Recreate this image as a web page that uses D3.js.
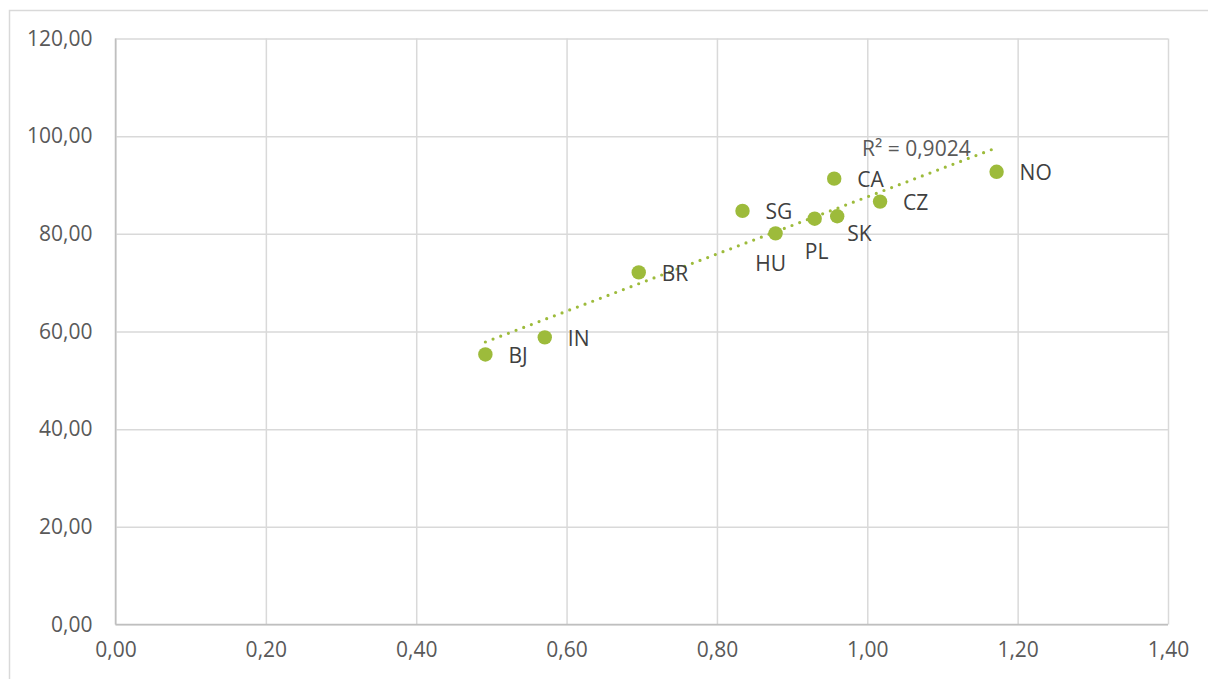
<!DOCTYPE html>
<html>
<head>
<meta charset="utf-8">
<script src="https://cdn.jsdelivr.net/npm/d3@7"></script>
<style>
  html, body { margin: 0; padding: 0; background: #fff; }
  svg { display: block; font-family: "Open Sans", "DejaVu Sans", sans-serif; }
</style>
</head>
<body>
<svg id="chart" width="1208" height="679"></svg>
<script>
// Country codes and their values
const countries = ["BJ", "IN", "BR", "SG", "HU", "PL", "SK", "CA", "CZ", "NO"];
const xValues   = [0.492, 0.571, 0.696, 0.834, 0.878, 0.930, 0.960, 0.956, 1.017, 1.172];
const yValues   = [55.3, 58.8, 72.1, 84.7, 80.1, 83.1, 83.6, 91.3, 86.6, 92.7];
const xTicks = [0, 0.2, 0.4, 0.6, 0.8, 1.0, 1.2, 1.4];
const yTicks = [0, 20, 40, 60, 80, 100, 120];
const rSquaredText = "R² = 0,9024";

const svg = d3.select("#chart");
const plot = { left: 115.5, top: 38.5, right: 1168, bottom: 624.5 };

const x = d3.scaleLinear().domain([0, 1.4]).range([plot.left, plot.right]);
const y = d3.scaleLinear().domain([0, 120]).range([plot.bottom, plot.top]);
const fmt = v => d3.format(".2f")(v).replace(".", ",");

// Outer chart frame
svg.append("rect")
  .attr("x", 9.5).attr("y", 10.5)
  .attr("width", 1220).attr("height", 700)
  .attr("fill", "none").attr("stroke", "#d9d9d9").attr("stroke-width", 1.5);

// Gridlines
svg.append("g")
  .attr("transform", `translate(0,${plot.bottom})`)
  .call(d3.axisBottom(x).tickValues(xTicks).tickSize(-(plot.bottom - plot.top)).tickFormat(""))
  .call(g => g.select(".domain").remove())
  .call(g => g.selectAll("line").attr("stroke", "#d9d9d9").attr("stroke-width", 1.5));

svg.append("g")
  .attr("transform", `translate(${plot.left},0)`)
  .call(d3.axisLeft(y).tickValues(yTicks).tickSize(-(plot.right - plot.left)).tickFormat(""))
  .call(g => g.select(".domain").remove())
  .call(g => g.selectAll("line").attr("stroke", "#d9d9d9").attr("stroke-width", 1.5));

// Axis lines
svg.append("line")
  .attr("x1", plot.left).attr("x2", plot.left).attr("y1", plot.top).attr("y2", plot.bottom)
  .attr("stroke", "#bfbfbf").attr("stroke-width", 1.5);
svg.append("line")
  .attr("x1", plot.left).attr("x2", plot.right).attr("y1", plot.bottom).attr("y2", plot.bottom)
  .attr("stroke", "#bfbfbf").attr("stroke-width", 1.5);

// Tick labels
svg.append("g")
  .attr("transform", `translate(0,${plot.bottom})`)
  .call(d3.axisBottom(x).tickValues(xTicks).tickSize(0).tickPadding(18).tickFormat(fmt))
  .call(g => g.select(".domain").remove())
  .call(g => g.selectAll("text")
    .attr("fill", "#595959").attr("font-size", 21)
    .attr("font-family", "'Open Sans', sans-serif"));

svg.append("g")
  .attr("transform", `translate(${plot.left},0)`)
  .call(d3.axisLeft(y).tickValues(yTicks).tickSize(0).tickPadding(23).tickFormat(fmt))
  .call(g => g.select(".domain").remove())
  .call(g => g.selectAll("text")
    .attr("fill", "#595959").attr("font-size", 21)
    .attr("font-family", "'Open Sans', sans-serif"));

// Linear trendline (least squares) across the data range
const n = xValues.length;
const mx = d3.mean(xValues), my = d3.mean(yValues);
let sxy = 0, sxx = 0;
for (let i = 0; i < n; i++) {
  sxy += (xValues[i] - mx) * (yValues[i] - my);
  sxx += (xValues[i] - mx) ** 2;
}
const slope = sxy / sxx, intercept = my - slope * mx;
const [xMin, xMax] = d3.extent(xValues);

svg.append("line")
  .attr("x1", x(xMin)).attr("y1", y(intercept + slope * xMin))
  .attr("x2", x(xMax)).attr("y2", y(intercept + slope * xMax))
  .attr("stroke", "#9dbb3b").attr("stroke-width", 3.2)
  .attr("stroke-linecap", "round").attr("stroke-dasharray", "0 8.2");

svg.append("text")
  .attr("x", 862).attr("y", 149)
  .attr("dy", "0.35em")
  .attr("fill", "#595959").attr("font-size", 21)
  .text(rSquaredText);

// Points
const data = countries.map((c, i) => ({ c, x: xValues[i], y: yValues[i] }));

svg.append("g").selectAll("circle")
  .data(data).join("circle")
  .attr("cx", d => x(d.x)).attr("cy", d => y(d.y))
  .attr("r", 7.2).attr("fill", "#9dbb3b");

// Data labels: right of the point by default, some placed below
const labelPlace = {
  HU: { dx: -5, dy: 30, anchor: "middle" },
  PL: { dx: 2, dy: 33, anchor: "middle" },
  SK: { dx: 10, dy: 17, anchor: "start" }
};
svg.append("g").selectAll("text")
  .data(data).join("text")
  .attr("x", d => x(d.x) + (labelPlace[d.c] ? labelPlace[d.c].dx : 23))
  .attr("y", d => y(d.y) + (labelPlace[d.c] ? labelPlace[d.c].dy : 1))
  .attr("dy", "0.35em")
  .attr("text-anchor", d => labelPlace[d.c] ? labelPlace[d.c].anchor : "start")
  .attr("fill", "#404040").attr("font-size", 21)
  .text(d => d.c);
</script>
</body>
</html>
